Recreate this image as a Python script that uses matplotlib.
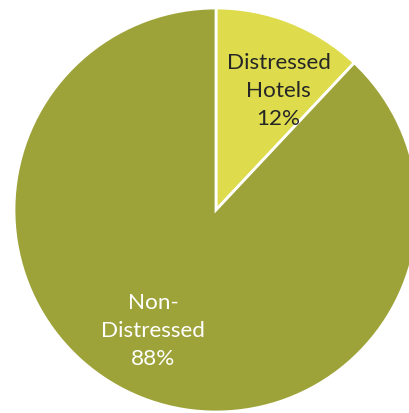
import matplotlib
matplotlib.use("Agg")
import matplotlib.pyplot as plt
import numpy as np

categories = ["Distressed\nHotels", "Non-\nDistressed"]
values = [12, 88]
colors = ["#DEDC4D", "#9EA339"]
text_colors = ["#262626", "#FFFFFF"]

fig = plt.figure(figsize=(4.10, 4.14), dpi=100)
ax = fig.add_axes([0, 0, 1, 1])
wedges, _ = ax.pie(values, colors=colors, startangle=90, counterclock=False,
                   radius=1.0, center=(0, 0),
                   wedgeprops=dict(edgecolor="white", linewidth=2))
total = sum(values)
for w, cat, v, tc in zip(wedges, categories, values, text_colors):
    ang = np.deg2rad((w.theta1 + w.theta2) / 2 - 6)
    r = 0.67
    ax.text(r * np.cos(ang), r * np.sin(ang), f"{cat}\n{v / total * 100:.0f}%",
            ha="center", va="center", fontsize=16.2, color=tc,
            family=["Lato", "DejaVu Sans"], linespacing=1.5)
ax.set_xlim(-216 / 202, 194 / 202)
ax.set_ylim(-203 / 202, 211 / 202)
ax.set_aspect("auto")
ax.axis("off")
fig.savefig("out.png", dpi=100)
